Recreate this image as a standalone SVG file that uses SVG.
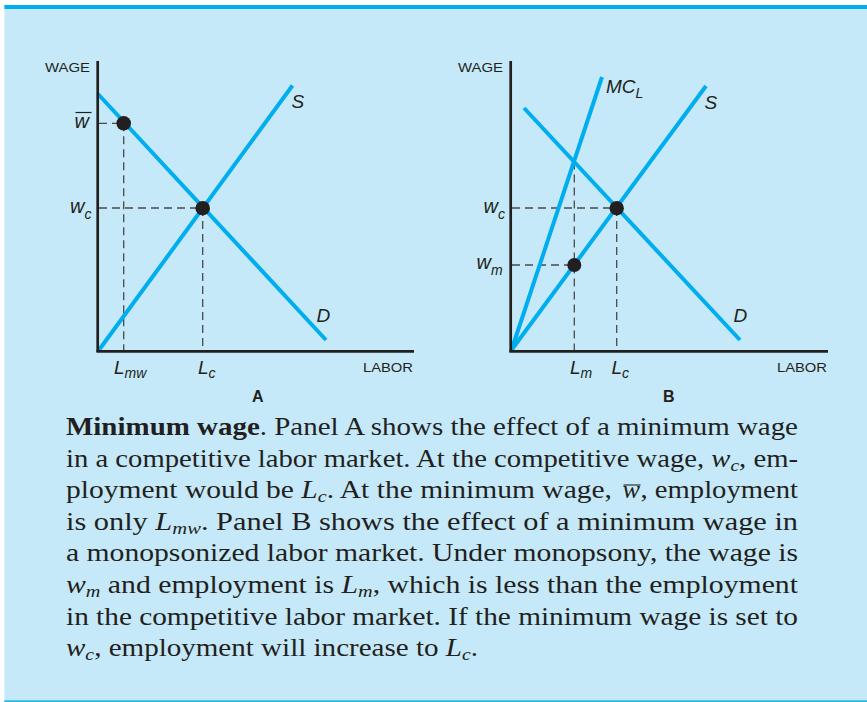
<svg xmlns="http://www.w3.org/2000/svg" width="867" height="702" viewBox="0 0 867 702">
<style>
.ax{stroke:#231F20;stroke-width:2.7;fill:none}
.cv{stroke:#00AEEF;stroke-width:4;fill:none}
.ds{stroke:#4a4a4a;stroke-width:1.3;stroke-dasharray:8 5;fill:none}
.dot{fill:#231F20}
.axl{font-family:"Liberation Sans",Arial,sans-serif;font-size:13px;fill:#231F20}
.lb{font-family:"Liberation Sans",Arial,sans-serif;font-style:italic;font-size:19px;fill:#231F20}
.lw{font-size:20px}
.lbs{font-size:14px}
.pn{font-family:"Liberation Sans",Arial,sans-serif;font-weight:bold;font-size:16px;fill:#231F20}
.cap{font-family:"Liberation Serif","Times New Roman",serif;font-size:25px;fill:#231F20}
.mi{font-style:italic}
.sb{font-style:italic;font-size:17px}
</style>
<rect x="0" y="0" width="867" height="702" fill="#ffffff"/>
<rect x="4.4" y="5" width="862.6" height="697" fill="#C5E9F8"/>
<rect x="4.4" y="5" width="862.6" height="4" fill="#00AEEF"/>
<rect x="4.4" y="700.3" width="862.6" height="1.7" fill="#29B6E8"/>

<g id="panelA">
  <g id="A-guides">
    <line class="ds" x1="99" y1="123.3" x2="123.7" y2="123.3"/>
    <line class="ds" x1="99" y1="208" x2="202.7" y2="208"/>
    <line class="ds" x1="123.7" y1="123.3" x2="123.7" y2="350"/>
    <line class="ds" x1="202.7" y1="208" x2="202.7" y2="350"/>
  </g>
  <g id="A-curves">
    <line id="A-D" class="cv" x1="98" y1="94" x2="326" y2="340"/>
    <line id="A-S" class="cv" x1="99" y1="350" x2="292.5" y2="85.5"/>
  </g>
  <g id="A-axes">
    <line class="ax" x1="97.7" y1="61" x2="97.7" y2="352"/>
    <line class="ax" x1="96.4" y1="351.3" x2="414" y2="351.3"/>
  </g>
  <circle class="dot" cx="123.7" cy="123.3" r="7.3"/>
  <circle class="dot" cx="202.7" cy="208.2" r="7.3"/>
  <text class="axl" x="45" y="72.3" textLength="45" lengthAdjust="spacingAndGlyphs">WAGE</text>
  <text class="axl" x="363" y="371.7" textLength="50" lengthAdjust="spacingAndGlyphs">LABOR</text>
  <text class="lb lw" x="74.5" y="128.3">w</text>
  <line x1="75.5" y1="112.5" x2="91.5" y2="112.5" stroke="#231F20" stroke-width="1.2"/>
  <text class="lb lw" x="70" y="213">w<tspan class="lbs" dy="6">c</tspan></text>
  <text class="lb" x="291.5" y="108">S</text>
  <text class="lb" x="316.5" y="321.7">D</text>
  <text class="lb" x="114" y="374">L<tspan class="lbs" dy="4">mw</tspan></text>
  <text class="lb" x="198" y="374">L<tspan class="lbs" dy="4">c</tspan></text>
  <text class="pn" x="252" y="401.7">A</text>
</g>

<g id="panelB">
  <g id="B-guides">
    <line class="ds" x1="512" y1="208" x2="616.7" y2="208"/>
    <line class="ds" x1="512" y1="265" x2="574.3" y2="265" stroke="#6e6e6e"/>
    <line class="ds" x1="574.3" y1="161.6" x2="574.3" y2="350"/>
    <line class="ds" x1="616.7" y1="208" x2="616.7" y2="350"/>
  </g>
  <g id="B-curves">
    <line id="B-MCL" class="cv" x1="511.5" y1="350" x2="602" y2="77"/>
    <line id="B-S" class="cv" x1="511.5" y1="350" x2="706" y2="86"/>
    <line id="B-D" class="cv" x1="524" y1="108" x2="740" y2="340"/>
  </g>
  <g id="B-axes">
    <line class="ax" x1="510.7" y1="61" x2="510.7" y2="352"/>
    <line class="ax" x1="509.4" y1="351.3" x2="828" y2="351.3"/>
  </g>
  <circle class="dot" cx="616.7" cy="208.2" r="7.2"/>
  <circle class="dot" cx="574.3" cy="265" r="7"/>
  <text class="axl" x="458" y="72.3" textLength="45" lengthAdjust="spacingAndGlyphs">WAGE</text>
  <text class="axl" x="777" y="371.7" textLength="50" lengthAdjust="spacingAndGlyphs">LABOR</text>
  <text class="lb" x="606" y="93.3">MC<tspan class="lbs" dy="5">L</tspan></text>
  <text class="lb" x="704.5" y="109">S</text>
  <text class="lb" x="733.5" y="321.7">D</text>
  <text class="lb lw" x="483.5" y="213">w<tspan class="lbs" dy="6">c</tspan></text>
  <text class="lb lw" x="476.5" y="269">w<tspan class="lbs" dy="6">m</tspan></text>
  <text class="lb" x="570" y="374">L<tspan class="lbs" dy="4">m</tspan></text>
  <text class="lb" x="611.5" y="374">L<tspan class="lbs" dy="4">c</tspan></text>
  <text class="pn" x="663" y="401.7">B</text>
</g>

<g id="caption">
  <text class="cap" x="66" y="435" textLength="732" lengthAdjust="spacingAndGlyphs"><tspan font-weight="bold">Minimum wage</tspan>.  Panel A shows the effect of a minimum wage</text>
  <text class="cap" x="66" y="466.6" textLength="732" lengthAdjust="spacingAndGlyphs">in a competitive labor market. At the competitive wage, <tspan class="mi">w</tspan><tspan class="sb" dy="4">c</tspan><tspan dy="-4">, em-</tspan></text>
  <text class="cap" x="66" y="498.2" textLength="546" lengthAdjust="spacingAndGlyphs">ployment would be <tspan class="mi">L</tspan><tspan class="sb" dy="4">c</tspan><tspan dy="-4">. At the minimum wage,</tspan></text>
  <text class="cap mi" x="622.5" y="498.2" textLength="17.5" lengthAdjust="spacingAndGlyphs">w</text>
  <line x1="623.5" y1="485" x2="640.5" y2="485" stroke="#231F20" stroke-width="1.1"/>
  <text class="cap" x="640.5" y="498.2" textLength="157.5" lengthAdjust="spacingAndGlyphs">, employment</text>
  <text class="cap" x="66" y="529.8" textLength="732" lengthAdjust="spacingAndGlyphs">is only <tspan class="mi">L</tspan><tspan class="sb" dy="4">mw</tspan><tspan dy="-4">. Panel B shows the effect of a minimum wage in</tspan></text>
  <text class="cap" x="66" y="561.4" textLength="732" lengthAdjust="spacingAndGlyphs">a monopsonized labor market. Under monopsony, the wage is</text>
  <text class="cap" x="66" y="593" textLength="732" lengthAdjust="spacingAndGlyphs"><tspan class="mi">w</tspan><tspan class="sb" dy="4">m</tspan><tspan dy="-4"> and employment is </tspan><tspan class="mi">L</tspan><tspan class="sb" dy="4">m</tspan><tspan dy="-4">, which is less than the employment</tspan></text>
  <text class="cap" x="66" y="624.6" textLength="732" lengthAdjust="spacingAndGlyphs">in the competitive labor market. If the minimum wage is set to</text>
  <text class="cap" x="66" y="656.2" textLength="412" lengthAdjust="spacingAndGlyphs"><tspan class="mi">w</tspan><tspan class="sb" dy="4">c</tspan><tspan dy="-4">, employment will increase to </tspan><tspan class="mi">L</tspan><tspan class="sb" dy="4">c</tspan><tspan dy="-4">.</tspan></text>
</g>
</svg>
